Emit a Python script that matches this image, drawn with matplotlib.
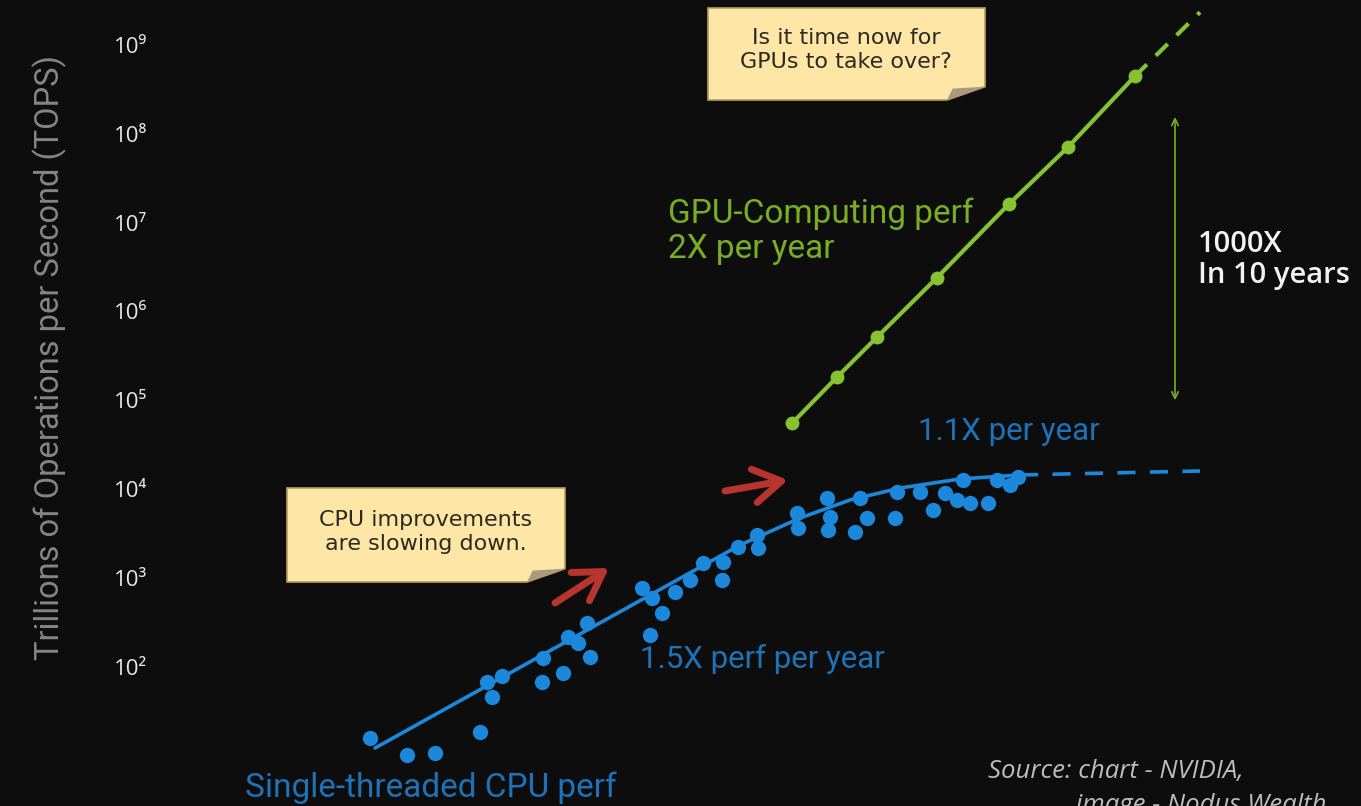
import matplotlib
matplotlib.use("Agg")
import matplotlib.pyplot as plt
from matplotlib.patches import Polygon

# ---------------- data ----------------
cpu_year = [1980.0, 1981.85, 1983.25, 1985.5, 1985.85, 1986.1, 1986.6, 1988.6, 1988.65, 1989.65,
            1989.9, 1990.4, 1990.85, 1991.0, 1993.6, 1994.1, 1994.6, 1994.0, 1995.25, 1996.0,
            1996.65, 1997.65, 1997.6, 1998.4, 1999.35, 1999.4, 2001.35, 2001.4, 2002.85, 2003.0,
            2002.9, 2004.25, 2004.5, 2004.85, 2006.35, 2006.25, 2007.5, 2008.15, 2008.75, 2009.35,
            2009.65, 2010.0, 2010.9, 2011.35, 2012.0, 2012.4]
cpu_tops = [15.7, 10.1, 10.6, 18.4, 67, 45.5, 78, 67, 125, 85,
            215, 185, 310, 128, 767, 593, 402, 227, 692, 944,
            1469, 1507, 944, 2223, 3034, 2168, 5370, 3640, 7925, 4840,
            3450, 3280, 7925, 4710, 9250, 4710, 9250, 5800, 9020, 7520,
            12600, 6950, 6950, 12600, 11100, 13650]

cpu_trend_year = [1980.25, 1998.5, 2001.5, 2004.0, 2006.5, 2009.5, 2012.5]
cpu_trend_tops = [12.1, 2339, 4710, 7516, 10250, 12970, 14390]
cpu_proj_year = [2012.5, 2021.5]
cpu_proj_tops = [14390, 15960]

gpu_year = [2001.1, 2003.35, 2005.35, 2008.35, 2011.95, 2014.9, 2018.25]
gpu_tops = [5.5e4, 1.82e5, 5.13e5, 2.4e6, 1.62e7, 7.08e7, 4.47e8]
gpu_proj_year = [2018.25, 2021.5]
gpu_proj_tops = [4.47e8, 2.34e9]

ytick_vals = [1e2, 1e3, 1e4, 1e5, 1e6, 1e7, 1e8, 1e9]
ytick_labels = ["10²", "10³", "10⁴", "10⁵", "10⁶", "10⁷", "10⁸", "10⁹"]

# ---------------- style ----------------
BG = "#0d0d0d"
GREEN = "#86c232"
GREEN_TXT = "#78ad24"
BLUE = "#1c88dc"
BLUE_TXT = "#1e72b8"
RED = "#b8352f"
NOTE = "#fde6a6"

W, H = 1361, 806
fig = plt.figure(figsize=(W / 100, H / 100), dpi=100, facecolor=BG)
left = 160 / W
ax = fig.add_axes([left, 0, 1 - left, 1], facecolor=BG)

def fx(x):
    return x / W

def fy(y):
    return 1 - y / H

ax.set_yscale("log")
ax.set_xlim(1969.5, 2029.55)
ax.set_ylim(10 ** 0.430, 10 ** 9.507)
for s in ax.spines.values():
    s.set_visible(False)
ax.set_xticks([])
ax.set_yticks(ytick_vals)
ax.set_yticklabels(ytick_labels, family="Open Sans")
ax.yaxis.set_minor_locator(matplotlib.ticker.NullLocator())
ax.tick_params(axis="y", length=0, pad=9, labelsize=16, labelcolor="#e6e6e6")

# CPU
ax.plot(cpu_trend_year, cpu_trend_tops, color=BLUE, lw=2.6, zorder=2, solid_capstyle="round")
ax.plot(cpu_proj_year, cpu_proj_tops, color=BLUE, lw=2.6, ls=(0, (5, 4)), zorder=2)
ax.plot(cpu_year, cpu_tops, "o", color=BLUE, ms=11, mec="none", zorder=3)

# GPU
ax.plot(gpu_year, gpu_tops, "-o", color=GREEN, lw=3, ms=10, mec="none", zorder=3)
ax.plot(gpu_proj_year, gpu_proj_tops, color=GREEN, lw=3, ls=(0, (4, 3)), zorder=2)

# 1000X double arrow
ax.annotate("", xy=(2020.25, 10 ** 8.19), xytext=(2020.25, 10 ** 5.0),
            arrowprops=dict(arrowstyle="<->", color=GREEN_TXT, lw=1.2,
                            mutation_scale=12, shrinkA=0, shrinkB=0))

# red arrows (figure pixel coords)
for (x0, y0, x1, y1) in [(555, 603, 609, 568), (725, 491, 788, 480)]:
    fig.add_artist(matplotlib.patches.FancyArrowPatch(
        (fx(x0), fy(y0)), (fx(x1), fy(y1)), transform=fig.transFigure,
        arrowstyle="->,head_length=0.9,head_width=0.55", mutation_scale=22,
        color=RED, lw=5, shrinkA=0, shrinkB=0))

# texts
fig.text(fx(50), fy(357), "Trillions of Operations per Second (TOPS)", rotation=90,
         ha="center", va="center", color="#858585", fontsize=23.5, family="Roboto")
fig.text(fx(668), fy(198), "GPU-Computing perf\n2X per year", ha="left", va="top",
         color=GREEN_TXT, fontsize=24, family="Roboto", linespacing=1.1)
fig.text(fx(1198), fy(230), "1000X\nIn 10 years", ha="left", va="top",
         color="#f2f2f2", fontsize=21, family="Open Sans", weight="semibold",
         linespacing=1.1)
fig.text(fx(918), fy(417), "1.1X per year", ha="left", va="top",
         color=BLUE_TXT, fontsize=22.5, family="Roboto")
fig.text(fx(640), fy(644), "1.5X perf per year", ha="left", va="top",
         color=BLUE_TXT, fontsize=22.5, family="Roboto")
fig.text(fx(245), fy(772), "Single-threaded CPU perf", ha="left", va="top",
         color=BLUE_TXT, fontsize=24, family="Roboto")
fig.text(fx(988), fy(759), "Source: chart - NVIDIA,\n             image - Nodus Wealth", ha="left", va="top",
         color="#bdbdbd", fontsize=18.5, family="Open Sans", style="italic",
         linespacing=1.5)

# sticky notes
def note(x0, y0, x1, y1, fold, text, cx, cy):
    body = [(x0, y0), (x1, y0), (x1, y1 - fold * 0.35), (x1 - fold, y1), (x0, y1)]
    fig.add_artist(Polygon([(fx(a), fy(b)) for a, b in body], closed=True,
                           transform=fig.transFigure, facecolor=NOTE,
                           edgecolor="#b89c5c", lw=1.2, zorder=5))
    flap = [(x1, y1 - fold * 0.35), (x1 - fold, y1), (x1 - fold * 0.85, y1 - fold * 0.3)]
    fig.add_artist(Polygon([(fx(a), fy(b)) for a, b in flap], closed=True,
                           transform=fig.transFigure, facecolor="#a89a80",
                           edgecolor="none", zorder=6))
    fig.text(fx(cx), fy(cy), text, ha="center", va="center", color="#2e2a22",
             fontsize=16, family="DejaVu Sans", linespacing=1.3, zorder=7)

note(708, 8, 985, 100, 38, "Is it time now for\nGPUs to take over?", 846, 50)
note(287, 488, 565, 582, 38, "CPU improvements\nare slowing down.", 426, 532)

fig.savefig("out.png", dpi=100, facecolor=BG)
